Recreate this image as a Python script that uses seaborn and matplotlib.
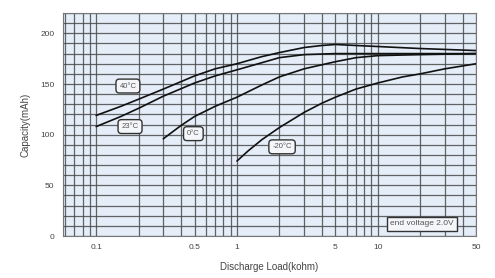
import pandas as pd
import seaborn as sns
import matplotlib
matplotlib.use("Agg")
import matplotlib.pyplot as plt
from matplotlib.ticker import LogLocator, MultipleLocator, FixedLocator, NullFormatter

# curves
temps = ["40°C", "23°C", "0°C", "-20°C"]
load_40 = [0.1, 0.15, 0.2, 0.3, 0.5, 0.7, 1, 1.5, 2, 3, 4, 5, 7, 10, 20, 50]
cap_40 = [119, 128, 135, 145, 158, 165, 170, 177, 181, 186, 188, 189, 188, 187, 185, 183]
load_23 = [0.1, 0.15, 0.2, 0.3, 0.5, 0.7, 1, 1.5, 2, 3, 5, 10, 50]
cap_23 = [108, 118, 126, 138, 151, 158, 164, 171, 176, 179, 180, 180, 180]
load_0 = [0.3, 0.4, 0.5, 0.7, 1, 1.5, 2, 3, 5, 7, 10, 20, 50]
cap_0 = [96, 109, 118, 128, 137, 149, 157, 165, 172, 176, 178, 179, 180]
load_m20 = [1, 1.2, 1.5, 2, 3, 4, 5, 7, 10, 15, 20, 30, 50]
cap_m20 = [74, 84, 95, 107, 122, 131, 137, 145, 151, 157, 160, 165, 170]

x_ticks = [0.1, 0.5, 1, 5, 10, 50]
x_tick_labels = ["0.1", "0.5", "1", "5", "10", "50"]
y_ticks = [0, 50, 100, 150, 200]

# label spots (load, capacity)
label_pos = {"40°C": (0.168, 148), "23°C": (0.174, 108), "0°C": (0.49, 101), "-20°C": (2.09, 88)}

frames = []
for t, xs, ys in zip(temps, [load_40, load_23, load_0, load_m20], [cap_40, cap_23, cap_0, cap_m20]):
    frames.append(pd.DataFrame({"load": xs, "capacity": ys, "temp": t}))
df = pd.concat(frames, ignore_index=True)

sns.set_style("white")
plt.rcParams["font.family"] = ["Liberation Sans", "DejaVu Sans"]

fig = plt.figure(figsize=(4.95, 2.78), dpi=100)
ax = fig.add_axes([0.127, 0.151, 0.835, 0.802])
ax.set_facecolor("#e4edf8")

ax.set_xscale("log")
ax.set_xlim(0.058, 50)
ax.set_ylim(0, 220)

# dense grid like the original paper chart
ax.xaxis.set_major_locator(FixedLocator(x_ticks))
ax.xaxis.set_minor_locator(LogLocator(base=10, subs=range(1, 10), numticks=20))
ax.xaxis.set_minor_formatter(NullFormatter())
ax.yaxis.set_major_locator(FixedLocator(y_ticks))
ax.yaxis.set_minor_locator(MultipleLocator(10))
ax.grid(which="both", axis="both", color="#4a4a4a", linewidth=0.9, alpha=0.85)
ax.set_axisbelow(True)

sns.lineplot(data=df, x="load", y="capacity", hue="temp", palette=["#111111"] * 4,
             linewidth=1.2, legend=False, ax=ax, sort=True, estimator=None)

ax.set_xticks(x_ticks)
ax.set_xticklabels(x_tick_labels)
ax.tick_params(axis="both", which="both", length=0, labelsize=6, colors="#444444", pad=6)

for t in temps:
    lx, ly = label_pos[t]
    ax.text(lx, ly, t, fontsize=5.5, color="#555555", ha="center", va="center",
            bbox=dict(boxstyle="round,pad=0.45", facecolor="#f4f6fa", edgecolor="#333333", linewidth=1.0))

ax.text(20.5, 12, "end voltage 2.0V", fontsize=6, color="#555555", ha="center", va="center",
        bbox=dict(boxstyle="square,pad=0.4", facecolor="#f4f6fa", edgecolor="#333333", linewidth=1.0))

for s in ax.spines.values():
    s.set_color("#777777")
    s.set_linewidth(0.8)

ax.set_xlabel("Discharge Load(kohm)", fontsize=7, color="#444444", labelpad=8)
ax.set_ylabel("Capacity(mAh)", fontsize=7, color="#444444", labelpad=7)

fig.savefig("out.png", dpi=100)
